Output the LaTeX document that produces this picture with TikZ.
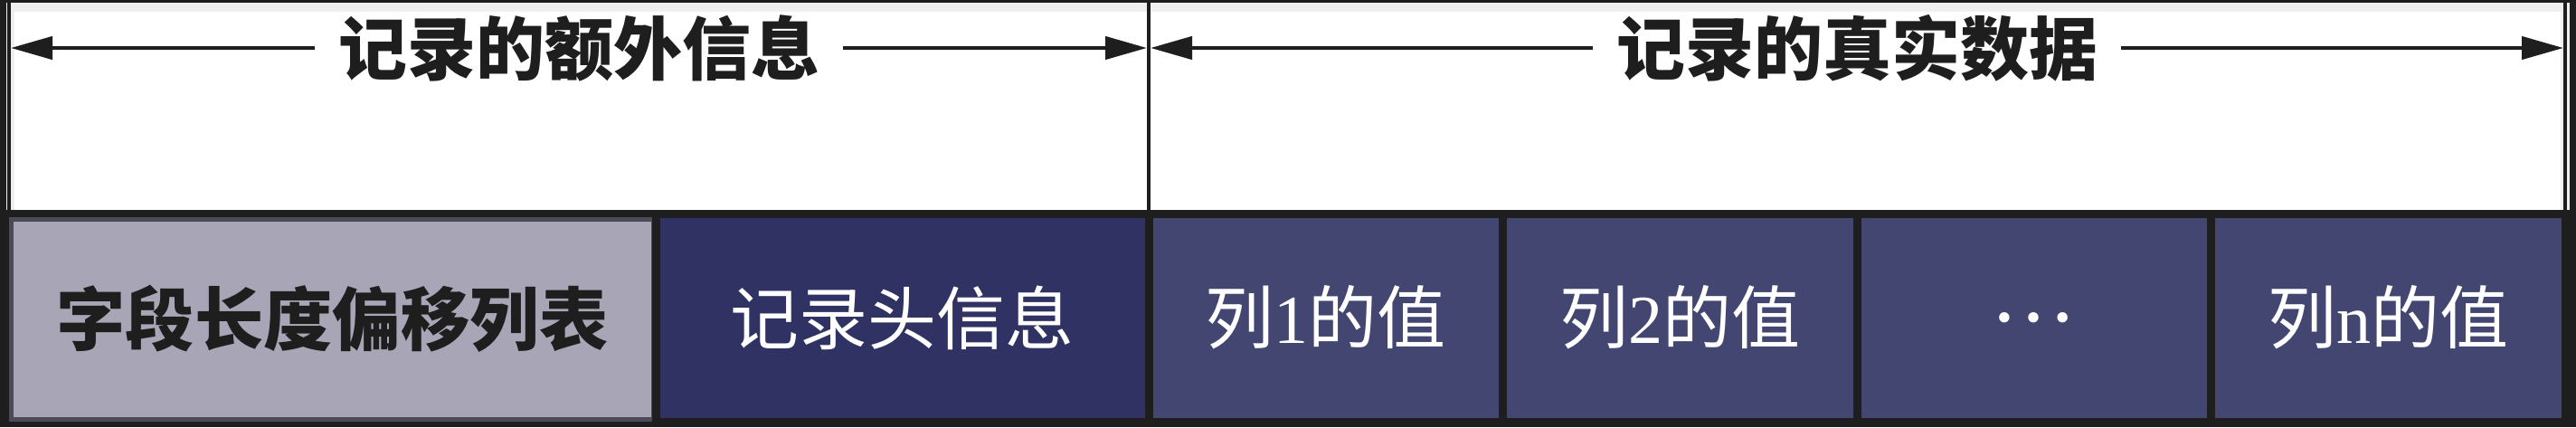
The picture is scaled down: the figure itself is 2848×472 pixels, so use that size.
\documentclass[tikz,border=0pt]{standalone}
\usepackage{graphicx}
\usepackage{fontspec}
\setmainfont{Liberation Serif}
\newfontfamily\cjk{Noto Sans CJK SC}
\usetikzlibrary{arrows.meta}
\definecolor{frame}{HTML}{1E1E1E}
\definecolor{lightband}{HTML}{EFEFEF}
\definecolor{grayfill}{HTML}{A8A5B6}
\definecolor{graybd}{HTML}{4B4A57}
\definecolor{navy}{HTML}{2F3262}
\definecolor{colfill}{HTML}{444672}
\newcommand\zh[1]{{\cjk #1}}
\newcommand\labfont{\fontsize{76}{80}\selectfont}
\newcommand\ttlfont{\fontsize{76}{80}\selectfont\bfseries}
\newcommand\dotfont{\fontsize{96}{100}\selectfont}
\begin{document}
\begin{tikzpicture}[x=1pt,y=-1pt,
  cell/.style={rectangle, draw=frame, line width=9pt, inner sep=0pt, outer sep=0pt,
    minimum height=230pt, text=white, font=\labfont},
  graycell/.style={rectangle, draw=graybd, fill=grayfill, line width=5pt, inner sep=0pt,
    outer sep=0pt, minimum width=710pt, minimum height=220.5pt, text=frame, font=\labfont},
  ttl/.style={inner xsep=26pt, inner ysep=0pt, text=frame, font=\ttlfont},
  vline/.style={draw=frame, line width=4pt},
  dimarrow/.style={draw=frame, line width=4.3pt, -{Triangle[length=46pt,width=25pt]}}
]
% background frame and top area
\fill[frame] (0,0) rectangle (2848,472);
\fill[lightband] (7,3) rectangle (2841,232);
\fill[white] (16,13) rectangle (2831,232);
% vertical boundary lines
\coordinate (v1t) at (10,3);    \coordinate (v1b) at (10,236);
\coordinate (v2t) at (1270,3);  \coordinate (v2b) at (1270,236);
\coordinate (v3t) at (2836,3);  \coordinate (v3b) at (2836,236);
\draw[vline] (v1t) -- (v1b);
\draw[vline] (v2t) -- (v2b);
\draw[vline] (v3t) -- (v3b);
% record cells
\node[graycell] (f) at (367.5,352.75) {\resizebox{610pt}{!}{\bfseries\zh{字段长度偏移列表}}};
\node[cell, fill=navy, minimum width=545pt] (h) at (997.5,351) {\zh{记录头信息}};
\node[cell, fill=colfill, minimum width=391.5pt] (c1) at (1465.75,351) {\zh{列}1\zh{的值}};
\node[cell, fill=colfill, minimum width=391.5pt] (c2) at (1857.25,351) {\zh{列}2\zh{的值}};
\node[cell, fill=colfill, minimum width=391.5pt] (cd) at (2248.75,351) {\dotfont …};
\node[cell, fill=colfill, minimum width=391.5pt] (cn) at (2640.25,351) {\zh{列}n\zh{的值}};
% titles and dimension arrows
\node[ttl] (t1) at (640,53) {\zh{记录的额外信息}};
\node[ttl] (t2) at (2053,53) {\zh{记录的真实数据}};
\coordinate (aL) at (12,53);
\coordinate (aML) at (1268,53);
\coordinate (aMR) at (1272,53);
\coordinate (aR) at (2834,53);
\draw[dimarrow] (t1.west) -- (aL);
\draw[dimarrow] (t1.east) -- (aML);
\draw[dimarrow] (t2.west) -- (aMR);
\draw[dimarrow] (t2.east) -- (aR);
\end{tikzpicture}
\end{document}
